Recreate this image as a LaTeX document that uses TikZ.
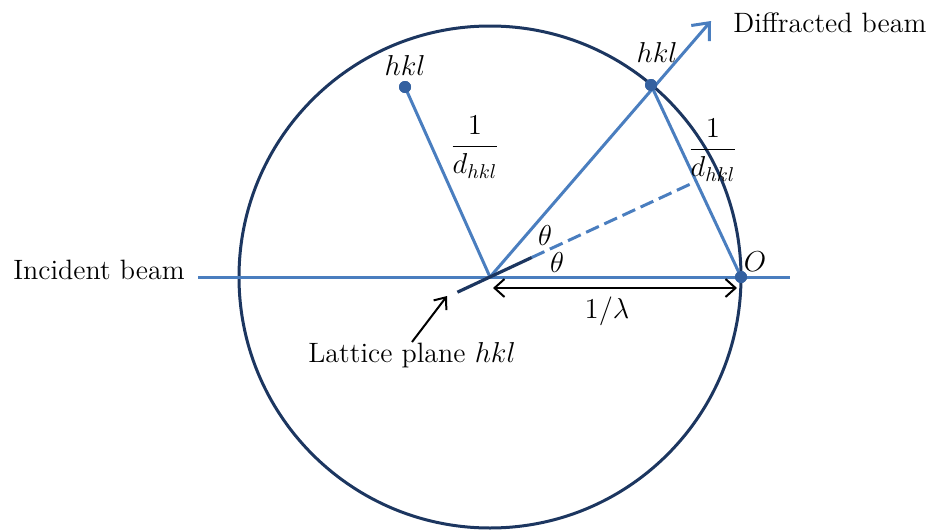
\documentclass[tikz,border=0pt]{standalone}
\usetikzlibrary{arrows.meta,calc}
\definecolor{beam}{HTML}{4A7EBF}
\definecolor{ewald}{HTML}{1C3660}
\definecolor{dotc}{HTML}{3461A0}
\begin{document}
\begin{tikzpicture}[x=0.5pt,y=-0.5pt,
  font=\fontsize{14}{17}\selectfont,
  beamline/.style={draw=beam,line width=1.5pt},
  latdot/.style={circle,fill=dotc,inner sep=0pt,minimum size=6pt},
  lbl/.style={inner sep=0pt},
  blackarrow/.style={draw=black,line width=1pt}]
\useasboundingbox (0,0) rectangle (933,530);
\coordinate (C) at (490,277);
\draw[ewald,line width=1.5pt] (C) circle[radius=125.5pt];
% incident beam
\coordinate (inS) at (198,277);
\coordinate (inE) at (790,277);
\draw[beamline] (inS) -- (inE);
\node[lbl,anchor=east] (inc) at (185,270) {Incident beam};
% points
\node[latdot] (P) at (651,85) {};
\node[latdot] (Q) at (405,87) {};
\node[latdot] (O) at (741,277) {};
% diffracted beam
\coordinate (D) at (711,21);
\draw[beamline,-{Straight Barb[length=7pt,width=12pt,line width=1.5pt]}] (C) -- (D);
\node[lbl,anchor=west] (diff) at (733,23) {Diffracted beam};
% reciprocal vectors
\draw[beamline] (Q.center) -- (C);
\draw[beamline] (P.center) -- (O.center);
% lattice plane and its extension
\coordinate (L1) at (457.4,292.2);
\coordinate (L2) at (531.7,257.5);
\coordinate (M) at (697,181);
\draw[beam,line width=1.5pt,dash pattern=on 7pt off 3pt] (L2) -- (M);
\draw[ewald,line width=1.6pt] (L1) -- (L2);
% redraw dots on top
\node[latdot] at (P) {};
\node[latdot] at (Q) {};
\node[latdot] at (O) {};
% labels
\node[lbl] (hklQ) at (405,66) {$hkl$};
\node[lbl] (hklP) at (657,52) {$hkl$};
\node[lbl] (fQ) at (475,147) {$\displaystyle\frac{1}{d_{hkl}}$};
\node[lbl] (fP) at (713,150) {$\displaystyle\frac{1}{d_{hkl}}$};
\node[lbl] (t1) at (545,235) {$\theta$};
\node[lbl] (t2) at (557,262) {$\theta$};
\node[lbl] (Ol) at (755,262) {$O$};
% 1/lambda
\coordinate (A1) at (493,288);
\coordinate (A2) at (737,288);
\draw[blackarrow,{Straight Barb[length=5pt,width=9pt]}-{Straight Barb[length=5pt,width=9pt]}] (A1) -- (A2);
\node[lbl] (lam) at (607,311) {$1/\lambda$};
% lattice plane label
\node[lbl] (lp) at (412,355) {Lattice plane $hkl$};
\coordinate (lpA) at (412,342);
\coordinate (lpB) at (447,296);
\draw[blackarrow,-{Straight Barb[length=5pt,width=8pt]}] (lpA) -- (lpB);
\end{tikzpicture}
\end{document}
